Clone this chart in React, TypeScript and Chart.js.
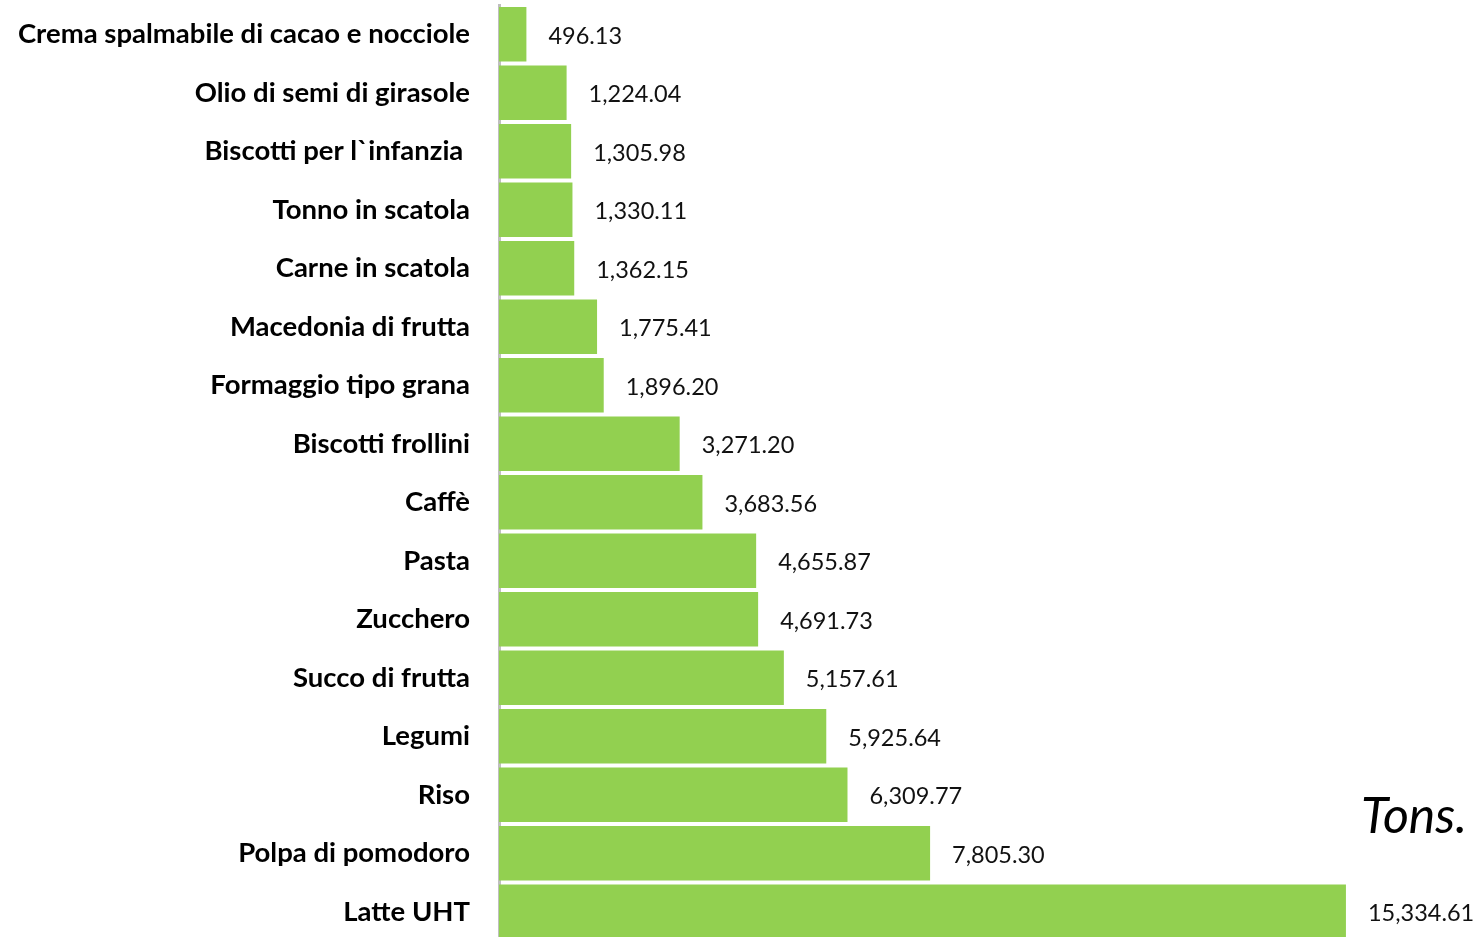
import React, { useEffect, useRef } from "react";
import { Chart, registerables } from "chart.js";

Chart.register(...registerables);

const categories = [
  "Crema spalmabile di cacao e nocciole",
  "Olio di semi di girasole",
  "Biscotti per l`infanzia ",
  "Tonno in scatola",
  "Carne in scatola",
  "Macedonia di frutta",
  "Formaggio tipo grana",
  "Biscotti frollini",
  "Caffè",
  "Pasta",
  "Zucchero",
  "Succo di frutta",
  "Legumi",
  "Riso",
  "Polpa di pomodoro",
  "Latte UHT",
];

const values = [
  496.13, 1224.04, 1305.98, 1330.11, 1362.15, 1775.41, 1896.2, 3271.2, 3683.56,
  4655.87, 4691.73, 5157.61, 5925.64, 6309.77, 7805.3, 15334.61,
];

const unitLabel = "Tons.";

const fmt = (v: number) =>
  v.toLocaleString("en-US", { minimumFractionDigits: 2, maximumFractionDigits: 2 });

const valueLabelPlugin = {
  id: "valueLabels",
  afterDatasetsDraw(chart: any) {
    const ctx = chart.ctx;
    const meta = chart.getDatasetMeta(0);
    ctx.save();
    ctx.font = "23.5px Lato, 'Open Sans', sans-serif";
    ctx.fillStyle = "#111111";
    ctx.textAlign = "left";
    ctx.textBaseline = "middle";
    meta.data.forEach((bar: any, i: number) => {
      ctx.fillText(fmt(values[i]), bar.x + 22, bar.y + 2);
    });
    ctx.font = "italic 50px Lato, 'Open Sans', sans-serif";
    ctx.fillStyle = "#000000";
    ctx.textBaseline = "alphabetic";
    ctx.fillText(unitLabel, 1361, 833);
    ctx.restore();
  },
};

export default function App() {
  const ref = useRef<HTMLCanvasElement | null>(null);

  useEffect(() => {
    if (!ref.current) return;
    const chart = new Chart(ref.current, {
      type: "bar",
      data: {
        labels: categories,
        datasets: [
          {
            data: values,
            backgroundColor: "#92D050",
            borderWidth: 0,
            categoryPercentage: 1,
            barPercentage: 0.93,
          },
        ],
      },
      options: {
        indexAxis: "y",
        animation: false,
        responsive: false,
        maintainAspectRatio: false,
        layout: { padding: { top: 5, bottom: 5, left: 0, right: 0 } },
        plugins: {
          legend: { display: false },
          tooltip: { enabled: false },
        },
        scales: {
          x: {
            display: false,
            min: 0,
            max: 17780,
            grid: { display: false },
          },
          y: {
            afterFit(scale: any) {
              scale.width = 499;
              scale.paddingTop = 0;
              scale.paddingBottom = 0;
            },
            grid: { display: false, drawTicks: false },
            border: { display: true, color: "#BFBFBF", width: 3 },
            ticks: {
              padding: 29,
              color: "#000000",
              font: { family: "Lato, 'Open Sans', sans-serif", size: 27.5, weight: "bold" },
            },
          },
        },
      },
      plugins: [valueLabelPlugin],
    });
    return () => chart.destroy();
  }, []);

  return (
    <div style={{ position: "absolute", left: 0, top: 0, width: 1481, height: 946, background: "#fff" }}>
      <canvas ref={ref} width={1481} height={946} style={{ display: "block" }} />
    </div>
  );
}
